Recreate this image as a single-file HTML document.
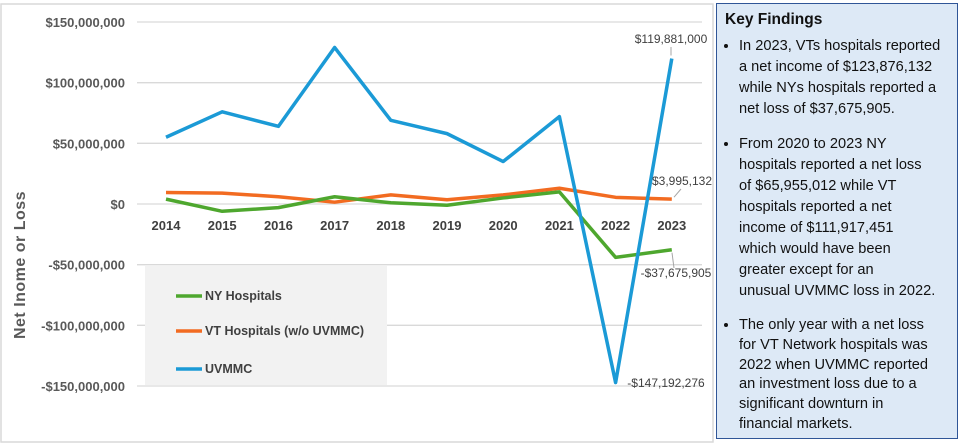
<!DOCTYPE html>
<html><head><meta charset="utf-8"><style>
body{margin:0;width:964px;height:445px;background:#fff;font-family:"Liberation Sans",sans-serif;overflow:hidden;position:relative}
#panel{position:absolute;left:716px;top:3px;width:242px;height:436px;background:#dde9f6;border:1.5px solid #2f5597;box-sizing:border-box;padding:5px 4px 0 8px;font-size:14.6px;line-height:21px;color:#111;white-space:nowrap}
#panel h3{margin:0 0 6px 0;font-size:15.5px;font-weight:bold}
#panel ul{margin:0;padding:0 0 0 14px}
#panel li{margin-bottom:14px}
#panel li.last{line-height:19.8px}
</style></head><body>
<svg width="716" height="445" style="position:absolute;left:0;top:0" id="chart">
<rect x="1" y="4" width="712" height="438" fill="#fff" stroke="#d9d9d9" stroke-width="1.5"/>
<g id="grid"></g>
<rect x="145" y="266" width="242" height="119" fill="#f2f2f2"/>
<g id="lines"></g>
<text transform="translate(25,265) rotate(-90)" text-anchor="middle" font-size="16" font-weight="bold" fill="#595959" letter-spacing="0.5">Net Inome or Loss</text>
<g font-size="12.5" font-weight="bold" fill="#404040">
<line x1="176" y1="296" x2="202" y2="296" stroke="#4ea72e" stroke-width="3.5"/><text x="205" y="300" fill="#404040">NY Hospitals</text>
<line x1="176" y1="331" x2="202" y2="331" stroke="#f26b21" stroke-width="3.5"/><text x="205" y="335" fill="#404040">VT Hospitals (w/o UVMMC)</text>
<line x1="176" y1="369" x2="202" y2="369" stroke="#1b9ad6" stroke-width="3.5"/><text x="205" y="373" fill="#404040">UVMMC</text>
</g>
</svg>
<div id="panel">
<h3>Key Findings</h3>
<ul>
<li>In 2023, VTs hospitals reported<br>a net income of $123,876,132<br>while NYs hospitals reported a<br>net loss of $37,675,905.</li>
<li>From 2020 to 2023 NY<br>hospitals reported a net loss<br>of $65,955,012 while VT<br>hospitals reported a net<br>income of $111,917,451<br>which would have been<br>greater except for an<br>unusual UVMMC loss in 2022.</li>
<li class="last">The only year with a net loss<br>for VT Network hospitals was<br>2022 when UVMMC reported<br>an investment loss due to a<br>significant downturn in<br>financial markets.</li>
</ul>
</div>
<script>
const years=["2014","2015","2016","2017","2018","2019","2020","2021","2022","2023"];
const nyValues=[4,-6,-3,6,1,-1,5,10,-44,-37.675905];
const vtValues=[9.5,9,6,1.5,7.5,3.5,7.5,13,5.5,3.995132];
const uvmmcValues=[55,76,64,129,69,58,35,72,-147.192276,119.881];
const yTicks=[150,100,50,0,-50,-100,-150];
const yTickLabels=["$150,000,000","$100,000,000","$50,000,000","$0","-$50,000,000","-$100,000,000","-$150,000,000"];
const NS="http://www.w3.org/2000/svg";
const y=v=>204-v*182/150;
const x=i=>166+i*56.2;
const grid=document.getElementById('grid'),lines=document.getElementById('lines');
function mk(tag,attrs,parent,text){const e=document.createElementNS(NS,tag);for(const k in attrs)e.setAttribute(k,attrs[k]);if(text!==undefined)e.textContent=text;parent.appendChild(e);return e;}
yTicks.forEach((t,i)=>{
 const l=mk('line',{x1:137,x2:702,y1:y(t),y2:y(t),stroke:'#d9d9d9','stroke-width':1.3},grid);
 
 
 const tx=mk('text',{x:125,y:y(t)+5,'text-anchor':'end','font-size':13,'font-weight':'bold',fill:'#595959'},grid,yTickLabels[i]);
 
 
});
years.forEach((yr,i)=>{
 const tx=mk('text',{x:x(i),y:230,'text-anchor':'middle','font-size':13,'font-weight':'bold',fill:'#404040'},grid,yr);
 
 
});
function series(vals,color,name){
 const p=mk('polyline',{points:vals.map((v,i)=>x(i)+','+y(v)).join(' '),fill:'none',stroke:color,'stroke-width':3.5,'stroke-linejoin':'round'},lines);
 
 
}
series(vtValues,'#f26b21','vt-hospitals-line');
series(nyValues,'#4ea72e','ny-hospitals-line');
series(uvmmcValues,'#1b9ad6','uvmmc-line');
function fmt(v){const n=Math.round(Math.abs(v)*1e6);return (v<0?'-':'')+'$'+n.toLocaleString('en-US');}
function label(val,lx,ly,x1,y1,x2,y2,name){
 if(x1) mk('line',{x1:x1,y1:y1,x2:x2,y2:y2,stroke:'#a6a6a6','stroke-width':1},lines);
 const t=mk('text',{x:lx,y:ly,'text-anchor':'middle','font-size':12,fill:'#404040'},lines,fmt(val));
 
 
}
const L=years.length-1;
label(uvmmcValues[L],671,43,671,47,671,y(uvmmcValues[L])-3,'uvmmc-2023-label');
label(vtValues[L],682,185,681,189,674,y(vtValues[L])-2,'vt-2023-label');
label(nyValues[L],676,277,674,268,672,y(nyValues[L])+3,'ny-2023-label');
label(uvmmcValues[8],666,387,0,0,0,0,'uvmmc-2022-label');
</script>
</body></html>
